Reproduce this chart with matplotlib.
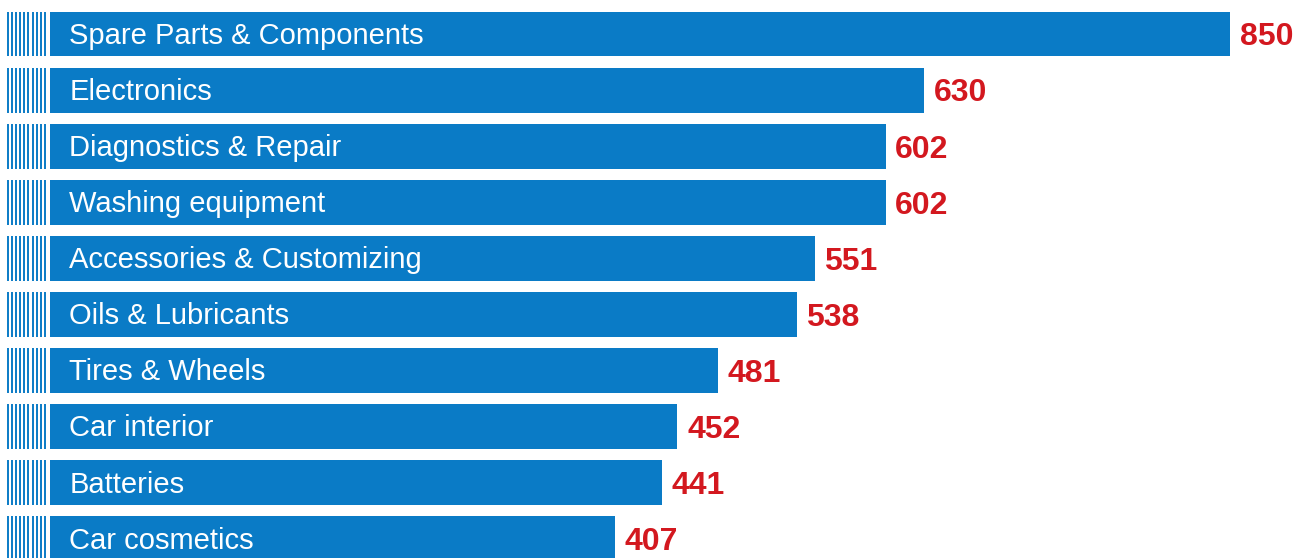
import matplotlib
matplotlib.use('Agg')
import matplotlib.pyplot as plt
import numpy as np

categories = ['Spare Parts & Components', 'Electronics', 'Diagnostics & Repair',
              'Washing equipment', 'Accessories & Customizing', 'Oils & Lubricants',
              'Tires & Wheels', 'Car interior', 'Batteries', 'Car cosmetics']
values = [850, 630, 602, 602, 551, 538, 481, 452, 441, 407]

BLUE = '#0a7bc6'
RED = '#d3181f'
FONT = ['Liberation Sans', 'DejaVu Sans']

fig = plt.figure(figsize=(12.96, 5.58), dpi=100)
ax = fig.add_axes([0, 0, 1, 1])

y = np.arange(len(categories))
ax.barh(y, values, height=0.80, color=BLUE, left=0)

# striped lead-in left of every bar
stripe_x = np.linspace(-30.5, -3.5, 10)
for yi in y:
    ax.vlines(stripe_x, yi - 0.40, yi + 0.40, color=BLUE, linewidth=1.4)

for yi, cat, v in zip(y, categories, values):
    ax.text(14, yi + 0.03, cat, color='white', fontsize=21, va='center', ha='left',
            family=FONT)
    ax.text(v + 7, yi + 0.06, str(v), color=RED, fontsize=23, fontweight='bold',
            va='center', ha='left', family=FONT)

ax.set_xlim(-36, 897.7)
ax.set_ylim(9.34, -0.606)
ax.axis('off')

fig.savefig('out.png', dpi=100)
